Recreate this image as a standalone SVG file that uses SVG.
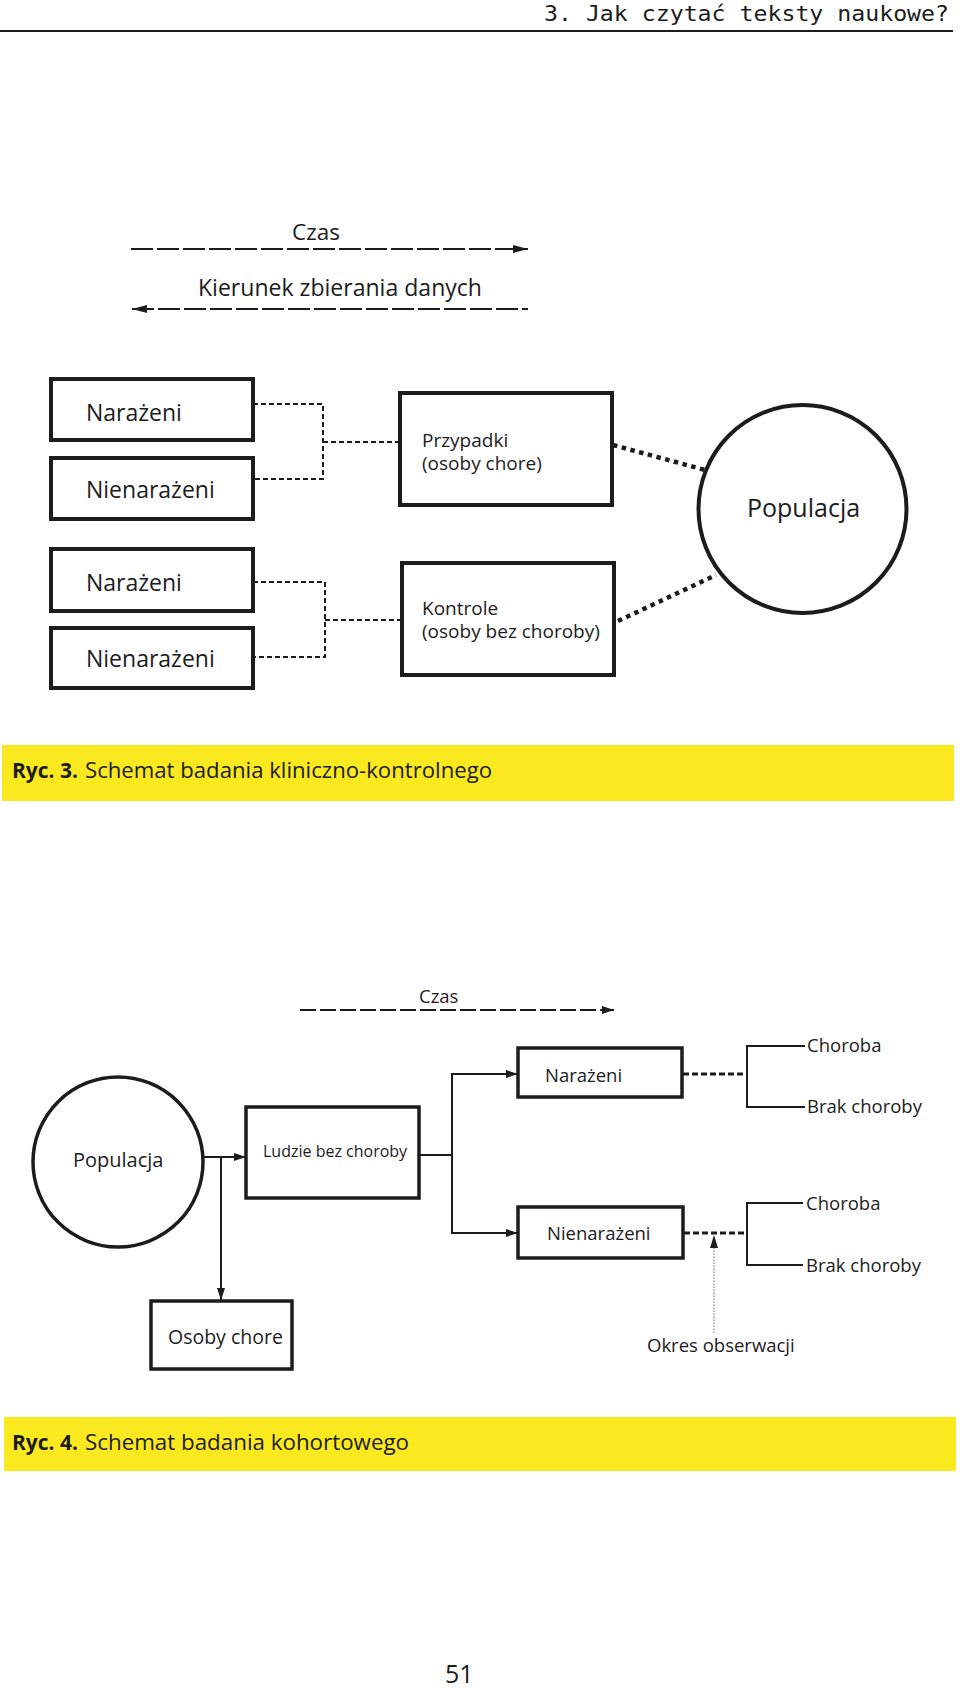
<svg xmlns="http://www.w3.org/2000/svg" width="960" height="1688" viewBox="0 0 960 1688">
<defs>
<style>
text{font-family:"Open Sans","Noto Sans","DejaVu Sans",sans-serif;fill:#1c1c1c}
.mono{font-family:"DejaVu Sans Mono","Liberation Mono",monospace}
.box3{fill:#fff;stroke:#1c1c1c;stroke-width:4}
.box4{fill:#fff;stroke:#1c1c1c;stroke-width:3.5}
.ln{fill:none;stroke:#1c1c1c;stroke-width:2}
.dash{fill:none;stroke:#1c1c1c;stroke-width:2;stroke-dasharray:5 3}
.dot{fill:none;stroke:#1c1c1c;stroke-width:4.5;stroke-dasharray:4.5 4.5}
.tdash{fill:none;stroke:#1c1c1c;stroke-width:3.2;stroke-dasharray:6 3}
.band{fill:#FBE91F}
</style>
<marker id="ah" viewBox="0 0 15 8" refX="15" refY="4" markerWidth="15" markerHeight="8" markerUnits="userSpaceOnUse" orient="auto-start-reverse">
<path d="M0,0 L15,4 L0,8 z" fill="#1c1c1c"/>
</marker>
<marker id="ah2" viewBox="0 0 12 8" refX="12" refY="4" markerWidth="12" markerHeight="8" markerUnits="userSpaceOnUse" orient="auto">
<path d="M0,0 L12,4 L0,8 z" fill="#1c1c1c"/>
</marker>
</defs>
<rect width="960" height="1688" fill="#fff"/>

<g id="header">
<text class="mono" x="544" y="21" font-size="22" textLength="405" lengthAdjust="spacingAndGlyphs">3. Jak czytać teksty naukowe?</text>
<line x1="0" y1="31" x2="953" y2="31" stroke="#1c1c1c" stroke-width="1.8"/>
</g>

<!-- Ryc. 3 -->
<g id="connectors-ryc3">
<line x1="131" y1="249" x2="528" y2="249" stroke="#1c1c1c" stroke-width="2" stroke-dasharray="22 4" marker-end="url(#ah)"/>
<line x1="132" y1="309" x2="528" y2="309" stroke="#1c1c1c" stroke-width="2" stroke-dasharray="22 4" marker-start="url(#ah)"/>
<path class="dash" d="M253,404 H323 V479 H253"/>
<path class="dash" d="M323,442 H400"/>
<path class="dash" d="M253,582 H325 V657 H253"/>
<path class="dash" d="M325,620 H402"/>
<line class="dot" x1="613" y1="445" x2="705" y2="470"/>
<line class="dot" x1="618" y1="621" x2="716" y2="575"/>
</g>
<g id="label-czas3"><text x="316" y="240" font-size="22.5" text-anchor="middle">Czas</text></g>
<g id="label-kierunek"><text x="198" y="296" font-size="23" textLength="284" lengthAdjust="spacingAndGlyphs">Kierunek zbierania danych</text></g>

<g id="narazeni1"><rect class="box3" x="51" y="379" width="202" height="61"/><text x="86" y="421" font-size="23">Narażeni</text></g>
<g id="nienarazeni1"><rect class="box3" x="51" y="458" width="202" height="61"/><text x="86" y="498" font-size="23">Nienarażeni</text></g>
<g id="narazeni2"><rect class="box3" x="51" y="549" width="202" height="62"/><text x="86" y="591" font-size="23">Narażeni</text></g>
<g id="nienarazeni2"><rect class="box3" x="51" y="628" width="202" height="60"/><text x="86" y="667" font-size="23">Nienarażeni</text></g>
<g id="przypadki"><rect class="box3" x="400" y="393" width="212" height="112"/><text x="422" y="447" font-size="19">Przypadki</text><text x="422" y="470" font-size="19">(osoby chore)</text></g>
<g id="kontrole"><rect class="box3" x="402" y="563" width="212" height="112"/><text x="422" y="615" font-size="19">Kontrole</text><text x="422" y="638" font-size="19">(osoby bez choroby)</text></g>
<g id="populacja1"><circle cx="802.5" cy="509" r="104" fill="#fff" stroke="#1c1c1c" stroke-width="4"/><text x="747" y="517" font-size="25">Populacja</text></g>

<g id="caption3">
<rect class="band" x="2" y="745" width="952" height="56"/>
<text x="12" y="778" font-size="21" font-weight="bold" textLength="66" lengthAdjust="spacingAndGlyphs">Ryc. 3.</text>
<text x="85" y="778" font-size="21" textLength="407" lengthAdjust="spacingAndGlyphs">Schemat badania kliniczno-kontrolnego</text>
</g>

<!-- Ryc. 4 -->
<g id="connectors-ryc4">
<line x1="300" y1="1010" x2="614" y2="1010" stroke="#1c1c1c" stroke-width="2" stroke-dasharray="16 4" marker-end="url(#ah2)"/>
<line class="ln" x1="203" y1="1157" x2="246" y2="1157" marker-end="url(#ah2)"/>
<line class="ln" x1="221" y1="1157" x2="221" y2="1300" marker-end="url(#ah2)"/>
<line class="ln" x1="419" y1="1155" x2="452" y2="1155"/>
<line class="ln" x1="452" y1="1073" x2="452" y2="1234"/>
<line class="ln" x1="451" y1="1074" x2="518" y2="1074" marker-end="url(#ah2)"/>
<line class="ln" x1="451" y1="1233" x2="518" y2="1233" marker-end="url(#ah2)"/>
<line class="tdash" x1="683" y1="1074" x2="747" y2="1074"/>
<line class="tdash" x1="684" y1="1233" x2="747" y2="1233"/>
<path class="ln" d="M805,1046 H747 V1107 H805"/>
<path class="ln" d="M803,1203 H747 V1265 H803"/>
<line x1="714" y1="1333" x2="714" y2="1247" stroke="#8a8a8a" stroke-width="1.3" stroke-dasharray="1.5 1.5"/>
<path d="M714,1235 L718,1248 L710,1248 z" fill="#1c1c1c"/>
</g>
<g id="label-czas4"><text x="419" y="1003" font-size="18.5">Czas</text></g>

<g id="populacja2"><circle cx="118" cy="1162" r="85" fill="#fff" stroke="#1c1c1c" stroke-width="3.5"/><text x="73" y="1167" font-size="20">Populacja</text></g>
<g id="ludzie"><rect class="box4" x="246" y="1107" width="173" height="91"/><text x="263" y="1157" font-size="16">Ludzie bez choroby</text></g>
<g id="osoby-chore"><rect class="box4" x="151" y="1301" width="141" height="68"/><text x="168" y="1344" font-size="19.5">Osoby chore</text></g>
<g id="narazeni3"><rect class="box4" x="518" y="1048" width="164" height="49"/><text x="545" y="1082" font-size="18.5">Narażeni</text></g>
<g id="nienarazeni3"><rect class="box4" x="518" y="1207" width="165" height="51"/><text x="547" y="1240" font-size="18.5">Nienarażeni</text></g>
<g id="wyniki1"><text x="807" y="1052" font-size="18.5">Choroba</text><text x="807" y="1113" font-size="18.5">Brak choroby</text></g>
<g id="wyniki2"><text x="806" y="1210" font-size="18.5">Choroba</text><text x="806" y="1272" font-size="18.5">Brak choroby</text></g>
<g id="okres"><text x="647" y="1352" font-size="18.5">Okres obserwacji</text></g>

<g id="caption4">
<rect class="band" x="4" y="1417" width="952" height="54"/>
<text x="12" y="1450" font-size="21" font-weight="bold" textLength="66" lengthAdjust="spacingAndGlyphs">Ryc. 4.</text>
<text x="85" y="1450" font-size="21" textLength="324" lengthAdjust="spacingAndGlyphs">Schemat badania kohortowego</text>
</g>

<g id="page-number"><text x="445" y="1683" font-size="25">51</text></g>
</svg>
